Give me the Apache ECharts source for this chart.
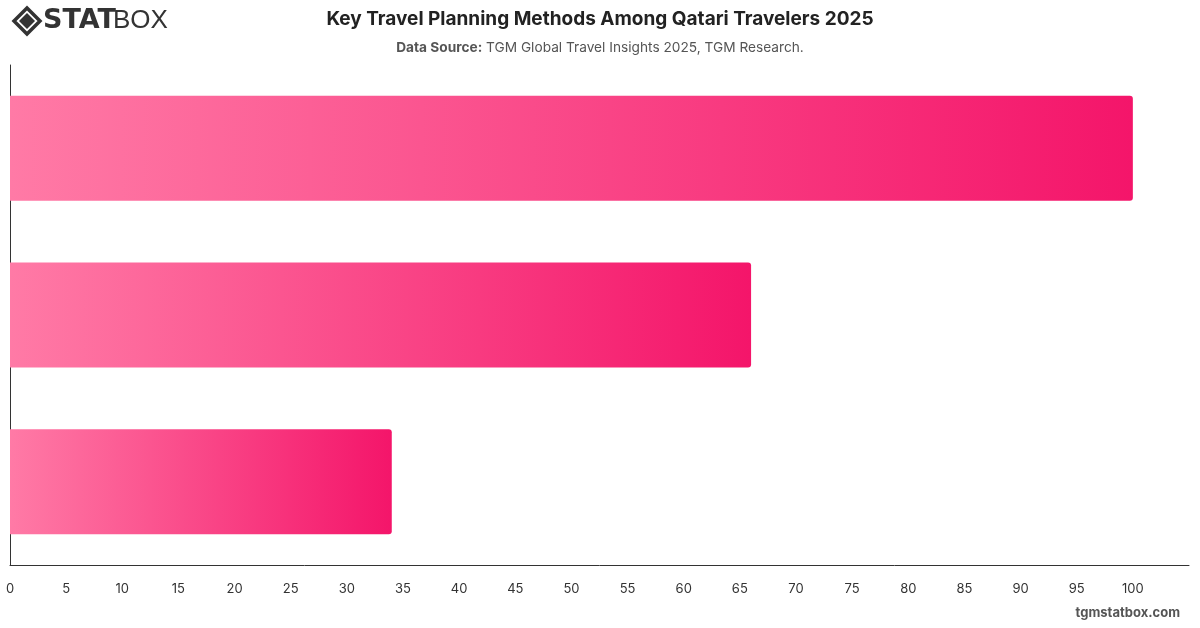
<!DOCTYPE html>
<html>
<head>
<meta charset="utf-8">
<style>
  html, body { margin: 0; padding: 0; background: #fff; }
  #chart { width: 1200px; height: 628px; }
</style>
<script src="https://cdn.jsdelivr.net/npm/echarts@6/dist/echarts.min.js"></script>
</head>
<body>
<div id="chart"></div>
<script>
// values, top bar first
const categories = ['Method A', 'Method B', 'Method C']
const values = [100, 66, 34]
const xTicks = { min: 0, max: 105, interval: 5 }

const chart = echarts.init(document.getElementById('chart'))

const barColor = new echarts.graphic.LinearGradient(0, 0, 1, 0, [
  { offset: 0, color: '#ff7aa6' },
  { offset: 1, color: '#f4156a' }
])

const option = {
  animation: false,
  title: [{
    text: 'Key Travel Planning Methods Among Qatari Travelers 2025',
    left: 'center',
    top: 5,
    textStyle: { fontFamily: 'Inter', fontSize: 19, fontWeight: 'bold', color: '#222' }
  }, {
    text: '{b|Data Source:} TGM Global Travel Insights 2025, TGM Research.',
    left: 'center',
    top: 36,
    textStyle: {
      fontFamily: 'Inter', fontSize: 13.7, fontWeight: 'normal', color: '#555',
      rich: { b: { fontFamily: 'Inter', fontSize: 13.7, fontWeight: 'bold', color: '#555' } }
    }
  }],
  grid: { left: 10, right: 11, top: 65, bottom: 63, containLabel: false },
  xAxis: {
    type: 'value',
    min: xTicks.min,
    max: xTicks.max,
    interval: xTicks.interval,
    splitLine: { show: false },
    axisLine: { show: true, lineStyle: { color: '#333', width: 1 } },
    axisTick: { show: false },
    axisLabel: {
      color: '#333', fontFamily: 'Inter', fontSize: 13, margin: 18,
      showMaxLabel: false,
      formatter: v => (v > 100 ? '' : v)
    }
  },
  yAxis: {
    type: 'category',
    inverse: true,
    data: categories,
    axisLine: { show: true, lineStyle: { color: '#333', width: 1 } },
    axisTick: { show: false },
    axisLabel: { show: false }
  },
  series: [{
    type: 'bar',
    data: values,
    barWidth: 105,
    itemStyle: { color: barColor, borderRadius: [0, 3, 3, 0] }
  }],
  graphic: [
    { type: 'polygon', shape: { points: [[27, 8], [40, 21], [27, 34], [14, 21]] },
      style: { fill: 'none', stroke: '#333', lineWidth: 3.5 } },
    { type: 'polygon', shape: { points: [[27, 13], [35, 21], [27, 29], [19, 21]] },
      style: { fill: '#333' } },
    { type: 'text', left: 43, top: 7,
      style: { text: 'STAT', fontFamily: 'DejaVu Sans', fontSize: 27, fontWeight: 900, fill: '#333' } },
    { type: 'text', left: 113, top: 8,
      style: { text: 'BOX', fontFamily: 'Liberation Sans', fontSize: 26, fontWeight: 'normal', fill: '#333' } },
    { type: 'text', right: 20, top: 607,
      style: { text: 'tgmstatbox.com', fontFamily: 'Inter', fontSize: 13, fontWeight: 'bold', fill: '#555' } }
  ]
}

chart.setOption(option)
</script>
</body>
</html>
